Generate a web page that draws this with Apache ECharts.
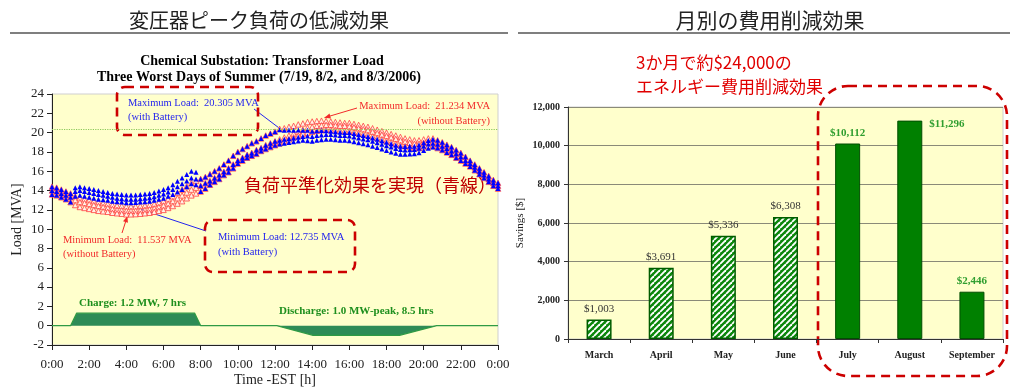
<!DOCTYPE html>
<html>
<head>
<meta charset="utf-8">
<script src="https://cdn.jsdelivr.net/npm/echarts@6/dist/echarts.min.js"></script>
<style>
  html, body { margin: 0; padding: 0; background: #ffffff; }
  #c { width: 1010px; height: 387px; }
</style>
</head>
<body>
<div id="c"></div>
<script>
// ---- Transformer load, three worst summer days, 15-minute samples 0:00 .. 24:00 ----
const SAMPLE_HOURS = 0.25;

// Load without battery [MVA]
const loadNoBattA = [
  14.4, 14.3, 14.1, 13.9,   13.7, 13.4, 13.2, 13.1,   13.0, 12.9, 12.8, 12.7,   12.6, 12.5, 12.45, 12.4,
  12.35, 12.35, 12.35, 12.4, 12.45, 12.5, 12.6, 12.75, 12.9, 13.1, 13.4, 13.75,  14.1, 14.45, 14.8, 15.0,
  15.2, 15.4, 15.7, 16.0,   16.3, 16.7, 17.1, 17.6,   18.0, 18.3, 18.6, 18.9,   19.1, 19.4, 19.7, 19.9,
  20.1, 20.39, 20.45, 20.6, 20.7, 20.85, 20.95, 21.1, 21.15, 21.2, 21.234, 21.2, 21.15, 21.1, 21.05, 21.0,
  21.0, 20.9, 20.8, 20.7,   20.6, 20.45, 20.3, 20.15,  20.0, 19.85, 19.7, 19.55, 19.4, 19.3, 19.2, 19.2,
  19.3, 19.4, 19.4, 19.2,   19.0, 18.75, 18.5, 18.2,  17.9, 17.5, 17.1, 16.7,   16.3, 15.9, 15.5, 15.1,
  14.8
];
const loadNoBattB = [
  14.0, 13.9, 13.7, 13.5,   13.3, 13.0, 12.8, 12.7,   12.6, 12.5, 12.4, 12.3,   12.2, 12.1, 12.0, 11.95,
  11.9, 11.9, 11.9, 11.95,  12.0, 12.05, 12.15, 12.3, 12.45, 12.65, 12.9, 13.2,  13.5, 13.8, 14.1, 14.3,
  14.5, 14.75, 15.0, 15.3,  15.6, 15.95, 16.3, 16.7,  17.1, 17.4, 17.7, 17.9,   18.2, 18.4, 18.7, 18.9,
  19.1, 19.3, 19.5, 19.7,   19.9, 20.1, 20.3, 20.5,   20.6, 20.7, 20.75, 20.8,  20.8, 20.75, 20.7, 20.7,
  20.65, 20.55, 20.45, 20.35, 20.25, 20.1, 19.95, 19.8, 19.65, 19.5, 19.35, 19.2, 19.05, 18.95, 18.85, 18.85,
  18.95, 19.05, 19.0, 18.8, 18.6, 18.35, 18.1, 17.8,  17.5, 17.1, 16.8, 16.4,   16.0, 15.6, 15.2, 14.8,
  14.5
];
const loadNoBattC = [
  13.6, 13.5, 13.3, 13.1,   12.8, 12.5, 12.3, 12.2,   12.1, 12.0, 11.9, 11.85,  11.8, 11.7, 11.65, 11.6,
  11.537, 11.54, 11.56, 11.6, 11.65, 11.7, 11.8, 11.9, 12.0, 12.2, 12.4, 12.65,  12.9, 13.2, 13.5, 13.7,
  13.9, 14.2, 14.6, 14.9,   15.2, 15.6, 15.9, 16.3,   16.8, 17.1, 17.4, 17.6,   17.8, 18.1, 18.3, 18.5,
  18.7, 18.9, 19.1, 19.3,   19.5, 19.7, 19.9, 20.0,   20.1, 20.2, 20.25, 20.3,  20.3, 20.25, 20.2, 20.2,
  20.15, 20.05, 19.95, 19.85, 19.75, 19.6, 19.45, 19.3, 19.15, 19.0, 18.85, 18.7, 18.6, 18.5, 18.4, 18.4,
  18.5, 18.6, 18.6, 18.4,   18.2, 17.95, 17.7, 17.4,  17.1, 16.8, 16.5, 16.1,   15.7, 15.3, 14.9, 14.5,
  14.2
];

// Load with battery [MVA]
const loadBattA = [
  14.4, 14.3, 14.1, 13.9,   13.7, 14.3, 14.4, 14.3,   14.2, 14.1, 14.0, 13.9,   13.8, 13.7, 13.65, 13.6,
  13.55, 13.55, 13.55, 13.6, 13.65, 13.7, 13.8, 13.95, 14.1, 14.3, 14.6, 14.95, 15.3, 15.65, 16.0, 15.9,
  15.2, 15.4, 15.7, 16.0,   16.3, 16.7, 17.1, 17.6,   18.0, 18.3, 18.6, 18.9,   19.1, 19.4, 19.7, 19.9,
  20.1, 20.305, 20.25, 20.27, 20.25, 20.27, 20.25, 20.25, 20.15, 20.2, 20.23, 20.2, 20.15, 20.1, 20.05, 20.0,
  20.0, 19.9, 19.8, 19.7,   19.6, 19.45, 19.3, 19.15,  19.0, 18.85, 18.7, 18.6,  18.55, 18.58, 18.6, 18.72,
  18.95, 19.18, 19.3, 19.2, 19.0, 18.75, 18.5, 18.2,  17.9, 17.5, 17.1, 16.7,   16.3, 15.9, 15.5, 15.1,
  14.8
];
const loadBattB = [
  14.0, 13.9, 13.7, 13.5,   13.3, 13.9, 14.0, 13.9,   13.8, 13.7, 13.6, 13.5,   13.4, 13.3, 13.2, 13.15,
  13.1, 13.1, 13.1, 13.15,  13.2, 13.25, 13.35, 13.5, 13.65, 13.85, 14.1, 14.4,  14.7, 15.0, 15.3, 15.2,
  14.5, 14.75, 15.0, 15.3,  15.6, 15.95, 16.3, 16.7,  17.1, 17.4, 17.7, 17.9,   18.2, 18.4, 18.7, 18.9,
  19.1, 19.22, 19.3, 19.37, 19.45, 19.52, 19.6, 19.65, 19.6, 19.7, 19.75, 19.8,  19.8, 19.75, 19.7, 19.7,
  19.65, 19.55, 19.45, 19.35, 19.25, 19.1, 18.95, 18.8, 18.65, 18.5, 18.35, 18.25, 18.2, 18.23, 18.25, 18.37,
  18.6, 18.83, 18.9, 18.8,  18.6, 18.35, 18.1, 17.8,  17.5, 17.1, 16.8, 16.4,   16.0, 15.6, 15.2, 14.8,
  14.5
];
const loadBattC = [
  13.6, 13.5, 13.3, 13.1,   12.8, 13.4, 13.5, 13.4,   13.3, 13.2, 13.1, 13.05,  13.0, 12.9, 12.85, 12.8,
  12.74, 12.735, 12.76, 12.8, 12.85, 12.9, 13.0, 13.1, 13.2, 13.4, 13.6, 13.85,  14.1, 14.4, 14.7, 14.6,
  13.9, 14.2, 14.6, 14.9,   15.2, 15.6, 15.9, 16.3,   16.8, 17.1, 17.4, 17.6,   17.8, 18.1, 18.3, 18.5,
  18.7, 18.82, 18.9, 18.97, 19.05, 19.12, 19.2, 19.15, 19.1, 19.2, 19.25, 19.3,  19.3, 19.25, 19.2, 19.2,
  19.15, 19.05, 18.95, 18.85, 18.75, 18.6, 18.45, 18.3, 18.15, 18.0, 17.85, 17.75, 17.75, 17.78, 17.8, 17.92,
  18.15, 18.38, 18.5, 18.4, 18.2, 17.95, 17.7, 17.4,  17.1, 16.8, 16.5, 16.1,   15.7, 15.3, 14.9, 14.5,
  14.2
];

// Battery power profile [MW]: charge overnight (+), discharge in the afternoon (-)
const batteryHours = [0, 1.0, 1.33, 7.67, 8.0, 12.1, 14.05, 18.7, 20.7, 24];
const batteryMW    = [0, 0,   1.3,  1.3,  0,   0,    -1.0,  -1.0, 0,    0];

// Extremes quoted in the callouts
const maxWithBattery = 20.305, maxWithBatteryHour = 12.25;
const maxNoBattery = 21.234,   maxNoBatteryHour = 14.5;
const minWithBattery = 12.735, minWithBatteryHour = 4.25;
const minNoBattery = 11.537,   minNoBatteryHour = 4.0;

// ---- Monthly savings ----
const months = ['March', 'April', 'May', 'June', 'July', 'August', 'September'];
const savings = [1003, 3691, 5336, 6308, 10112, 11296, 2446];
const measuredMonths = ['July', 'August', 'September'];

const SERIF = '"Liberation Serif", "Times New Roman", serif';
const JP = '"Noto Sans CJK JP", sans-serif';

const toPoints = arr => arr.map((v, i) => [i * SAMPLE_HOURS, v]);
const money = v => '$' + v.toLocaleString('en-US');

function hatchPattern() {
  const c = document.createElement('canvas');
  c.width = 6; c.height = 6;
  const g = c.getContext('2d');
  g.fillStyle = '#0b870b';
  g.fillRect(0, 0, 6, 6);
  g.strokeStyle = '#ffffff';
  g.lineWidth = 1.9;
  for (const o of [-6, 0, 6]) {
    g.beginPath(); g.moveTo(o, 6); g.lineTo(o + 6, 0); g.stroke();
  }
  return c;
}
const hatch = hatchPattern();

const redTri = d => ({
  type: 'scatter', xAxisIndex: 0, yAxisIndex: 0, data: toPoints(d),
  symbol: 'triangle', symbolSize: 5.5, silent: true,
  itemStyle: { color: '#fff2e6', borderColor: '#ff4040', borderWidth: 0.8, opacity: 1 }
});
const blueTri = d => ({
  type: 'scatter', xAxisIndex: 0, yAxisIndex: 0, data: toPoints(d),
  symbol: 'triangle', symbolSize: 5, silent: true,
  itemStyle: { color: '#0000ff', opacity: 1 }
});

const barData = savings.map((v, i) => {
  const measured = measuredMonths.includes(months[i]);
  const item = { value: v };
  if (measured) {
    item.itemStyle = { color: '#008000', borderColor: '#004d00', borderWidth: 1 };
    item.label = { color: '#2f9e2f', fontWeight: 'bold' };
  } else {
    item.itemStyle = { color: { image: hatch, repeat: 'repeat' }, borderColor: '#005c00', borderWidth: 1.5 };
    item.label = { color: '#333333' };
  }
  if (months[i] === 'August') {
    item.label.position = [32, 4];
    item.label.align = 'left';
    item.label.verticalAlign = 'middle';
  }
  return item;
});

const batteryLine = batteryHours.map((h, i) => [h, batteryMW[i]]);

const blueA = blueTri(loadBattA);
blueA.markLine = {
  silent: true, symbol: ['none', 'none'], label: { show: false },
  lineStyle: { type: 'dotted', color: '#8cc85a', width: 1.2 },
  data: [{ yAxis: maxWithBattery }]
};

const option = {
  animation: false,
  textStyle: { fontFamily: SERIF },
  grid: [
    { left: 52, top: 94, width: 446, height: 251, outerBoundsMode: 'none', show: true, backgroundColor: '#ffffcc', borderColor: '#cfcfcf', borderWidth: 1 },
    { left: 568, top: 107, width: 435, height: 232, outerBoundsMode: 'none', show: true, backgroundColor: '#ffffcc', borderColor: '#cfcfcf', borderWidth: 1 }
  ],
  xAxis: [
    {
      gridIndex: 0, type: 'value', min: 0, max: 24, interval: 2,
      axisLine: { onZero: false, lineStyle: { color: '#222', width: 1 } },
      axisTick: { show: true, length: 5, lineStyle: { color: '#222' } },
      axisLabel: { formatter: v => (v % 24) + ':00', fontFamily: SERIF, fontSize: 13, color: '#222', margin: 13 },
      splitLine: { show: false },
      name: 'Time -EST [h]', nameLocation: 'middle', nameGap: 28, nameMoveOverlap: false,
      nameTextStyle: { fontFamily: SERIF, fontSize: 14, color: '#222' }
    },
    {
      gridIndex: 1, type: 'category', data: months,
      axisLine: { lineStyle: { color: '#333', width: 1 } },
      axisTick: { show: true, alignWithLabel: false, length: 4, lineStyle: { color: '#333' } },
      axisLabel: { fontFamily: SERIF, fontSize: 10, fontWeight: 'bold', color: '#222', margin: 11 },
      splitLine: { show: false }
    }
  ],
  yAxis: [
    {
      gridIndex: 0, type: 'value', min: -2, max: 24, interval: 2,
      axisLine: { show: true, onZero: false, lineStyle: { color: '#222', width: 1 } },
      axisTick: { show: true, length: 5, lineStyle: { color: '#222' } },
      axisLabel: { fontFamily: SERIF, fontSize: 13, color: '#222', margin: 8 },
      splitLine: { show: false },
      name: 'Load [MVA]', nameLocation: 'middle', nameGap: 28,
      nameTextStyle: { fontFamily: SERIF, fontSize: 14, color: '#222' }
    },
    {
      gridIndex: 1, type: 'value', min: 0, max: 12000, interval: 2000,
      axisLine: { show: true, lineStyle: { color: '#333', width: 1 } },
      axisTick: { show: true, length: 4, lineStyle: { color: '#333' } },
      axisLabel: { formatter: v => v.toLocaleString('en-US'), fontFamily: SERIF, fontSize: 10, fontWeight: 'bold', color: '#222', margin: 8 },
      splitLine: { show: true, lineStyle: { color: '#8a8a78', width: 1 } },
      name: 'Savings [$]', nameLocation: 'middle', nameGap: 42,
      nameTextStyle: { fontFamily: SERIF, fontSize: 11, color: '#222' }
    }
  ],
  series: [
    {
      type: 'line', xAxisIndex: 0, yAxisIndex: 0, data: batteryLine, symbol: 'none', silent: true,
      lineStyle: { color: '#2f9a45', width: 1.3 },
      areaStyle: { color: '#2e8b57', opacity: 1 }
    },
    redTri(loadNoBattA), redTri(loadNoBattB), redTri(loadNoBattC),
    blueA, blueTri(loadBattB), blueTri(loadBattC),
    {
      type: 'bar', xAxisIndex: 1, yAxisIndex: 1, barWidth: 25, data: barData,
      label: { show: true, position: 'top', distance: 5, fontFamily: SERIF, fontSize: 11, formatter: p => money(p.value) }
    }
  ]
};

const chart = echarts.init(document.getElementById('c'), null, { renderer: 'canvas' });
chart.setOption(option);

// ---- Headings, callouts and highlight boxes ----
const px = (h, v) => chart.convertToPixel({ gridIndex: 0 }, [h, v]);

function text(x, y, s, o) {
  return {
    type: 'text', x, y, silent: true,
    style: Object.assign({ text: s, fontFamily: SERIF, fontSize: 10.5, fill: '#000', textAlign: 'left', textVerticalAlign: 'middle' }, o || {})
  };
}
function dashedBox(x, y, w, h, r) {
  return {
    type: 'rect', silent: true, shape: { x, y, width: w, height: h, r },
    style: { fill: 'none', stroke: '#cc0000', lineWidth: 2.6, lineDash: [9, 6] }
  };
}
function pointer(from, to, color, head) {
  const out = [{
    type: 'line', silent: true,
    shape: { x1: from[0], y1: from[1], x2: to[0], y2: to[1] },
    style: { stroke: color, lineWidth: 1 }
  }];
  if (head) {
    const a = Math.atan2(to[1] - from[1], to[0] - from[0]);
    const L = 6, W = 2.6;
    const bx = to[0] - L * Math.cos(a), by = to[1] - L * Math.sin(a);
    out.push({
      type: 'polygon', silent: true,
      shape: { points: [[to[0], to[1]], [bx + W * Math.sin(a), by - W * Math.cos(a)], [bx - W * Math.sin(a), by + W * Math.cos(a)]] },
      style: { fill: color }
    });
  }
  return out;
}

const pMaxW = px(maxWithBatteryHour, maxWithBattery);
const pMaxN = px(maxNoBatteryHour, maxNoBattery);
const pMinW = px(minWithBatteryHour, minWithBattery);
const pMinN = px(minNoBatteryHour, minNoBattery);

const BLUE = '#2525ee', RED = '#f22a2a', GREEN = '#1e8f1e';

const graphics = [
  // slide headings
  text(259, 20, '変圧器ピーク負荷の低減効果', { fontFamily: JP, fontSize: 20, fill: '#222', textAlign: 'center' }),
  text(770, 20, '月別の費用削減効果', { fontFamily: JP, fontSize: 21, fill: '#222', textAlign: 'center' }),
  { type: 'line', silent: true, shape: { x1: 10, y1: 33, x2: 508, y2: 33 }, style: { stroke: '#555', lineWidth: 1.5 } },
  { type: 'line', silent: true, shape: { x1: 518, y1: 33, x2: 1010, y2: 33 }, style: { stroke: '#555', lineWidth: 1.5 } },

  // load chart titles
  text(262, 61, 'Chemical Substation: Transformer Load', { fontSize: 14, fontWeight: 'bold', textAlign: 'center' }),
  text(259, 77, 'Three Worst Days of Summer (7/19, 8/2, and 8/3/2006)', { fontSize: 14, fontWeight: 'bold', textAlign: 'center' }),

  // callouts
  text(128, 103, 'Maximum Load:  ' + maxWithBattery.toFixed(3) + ' MVA', { fill: BLUE }),
  text(128, 117, '(with Battery)', { fill: BLUE }),
  text(490, 106, 'Maximum Load:  ' + maxNoBattery.toFixed(3) + ' MVA', { fill: RED, textAlign: 'right' }),
  text(490, 121, '(without Battery)', { fill: RED, textAlign: 'right' }),
  text(63, 240, 'Minimum Load:  ' + minNoBattery.toFixed(3) + ' MVA', { fill: RED }),
  text(63, 254, '(without Battery)', { fill: RED }),
  text(218, 237, 'Minimum Load: ' + minWithBattery.toFixed(3) + ' MVA', { fill: BLUE }),
  text(218, 252, '(with Battery)', { fill: BLUE }),
  ...pointer([254, 109], [pMaxW[0] - 1, pMaxW[1] - 2], BLUE, false),
  ...pointer([357, 108], [pMaxN[0] + 3, pMaxN[1] - 3], RED, true),
  ...pointer([122, 233], [pMinN[0] + 1, pMinN[1] + 2], RED, true),
  ...pointer([206, 231], [pMinW[0] + 2, pMinW[1] + 4], BLUE, false),

  text(244, 185, '負荷平準化効果を実現（青線）', { fontFamily: JP, fontSize: 18, fill: '#c00000' }),

  text(79, 303, 'Charge: 1.2 MW, 7 hrs', { fontSize: 11, fontWeight: 'bold', fill: GREEN }),
  text(279, 311, 'Discharge: 1.0 MW-peak, 8.5 hrs', { fontSize: 11, fontWeight: 'bold', fill: GREEN }),

  dashedBox(117, 87, 141, 48, 8),
  dashedBox(205, 220, 150, 52, 8),

  // savings chart note
  text(636, 63, '3か月で約$24,000の', { fontFamily: JP, fontSize: 17, fill: '#e00000' }),
  text(636, 87, 'エネルギー費用削減効果', { fontFamily: JP, fontSize: 17, fill: '#e00000' }),
  dashedBox(818, 86, 189, 290, 30)
];

chart.setOption({ graphic: graphics });
</script>
</body>
</html>
